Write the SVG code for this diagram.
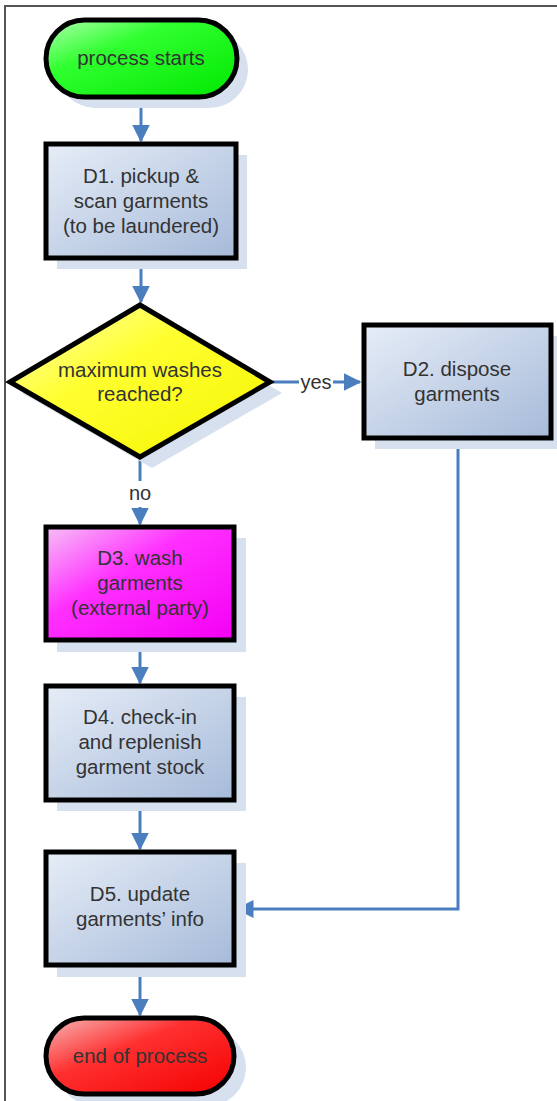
<svg xmlns="http://www.w3.org/2000/svg" width="557" height="1101" viewBox="0 0 557 1101">
<defs>
<linearGradient id="gBox" x1="0" y1="0" x2="1" y2="1">
<stop offset="0" stop-color="#e6edf7"/><stop offset="1" stop-color="#a6bad9"/>
</linearGradient>
<linearGradient id="gGreen" x1="0" y1="0" x2="1" y2="1">
<stop offset="0" stop-color="#b0ffb0"/><stop offset="0.35" stop-color="#30ff30"/><stop offset="1" stop-color="#00e800"/>
</linearGradient>
<linearGradient id="gYellow" x1="0" y1="0" x2="1" y2="1">
<stop offset="0" stop-color="#ffffb8"/><stop offset="0.4" stop-color="#ffff30"/><stop offset="1" stop-color="#f4f400"/>
</linearGradient>
<linearGradient id="gMagenta" x1="0" y1="0" x2="1" y2="1">
<stop offset="0" stop-color="#f6c0f6"/><stop offset="0.4" stop-color="#ff30ff"/><stop offset="1" stop-color="#f400f4"/>
</linearGradient>
<linearGradient id="gRed" x1="0" y1="0" x2="1" y2="1">
<stop offset="0" stop-color="#f6b8b8"/><stop offset="0.4" stop-color="#ff3030"/><stop offset="1" stop-color="#f40000"/>
</linearGradient>
<marker id="ah" markerWidth="6" markerHeight="6" refX="5.5" refY="3" orient="auto" markerUnits="strokeWidth">
<path d="M0,0 L6,3 L0,6 z" fill="#4a7ebf"/>
</marker>
</defs>
<style>
.sh{fill:#d7e0ee}
.nd{stroke:#000;stroke-width:5}
.tx{font-family:"Liberation Sans",Arial,sans-serif;font-size:20.5px;fill:#333;text-anchor:middle}
.lb{font-family:"Liberation Sans",Arial,sans-serif;font-size:20px;fill:#333;text-anchor:middle}
.cn{stroke:#4a7ebf;stroke-width:3;fill:none}
</style>
<rect width="557" height="1101" fill="#fff"/>
<path d="M5,1101 V6 H557" fill="none" stroke="#555" stroke-width="2"/>

<g id="connectors">
<path class="cn" d="M141,97 V141" marker-end="url(#ah)"/>
<path class="cn" d="M141,259 V302" marker-end="url(#ah)"/>
<path class="cn" d="M271,382 H299 M333,382 H360" marker-end="url(#ah)"/>
<path class="cn" d="M140,457 V481"/>
<path class="cn" d="M140,507 V524" marker-end="url(#ah)"/>
<path class="cn" d="M140,641 V683" marker-end="url(#ah)"/>
<path class="cn" d="M140,801 V849" marker-end="url(#ah)"/>
<path class="cn" d="M458,438 V909 H237" marker-end="url(#ah)"/>
<path class="cn" d="M140,966 V1015" marker-end="url(#ah)"/>
<text class="lb" x="316" y="389">yes</text>
<text class="lb" x="140" y="500">no</text>
</g>

<g id="start">
<rect class="sh" x="57" y="31" width="191" height="77" rx="38.5"/>
<rect class="nd" x="46" y="20" width="191" height="77" rx="38.5" fill="url(#gGreen)"/>
<text class="tx" x="141" y="65">process starts</text>
</g>

<g id="D1">
<rect class="sh" x="57" y="155" width="190" height="114"/>
<rect class="nd" x="46" y="144" width="190" height="114" fill="url(#gBox)"/>
<text class="tx" x="141" y="183">D1. pickup &amp;</text>
<text class="tx" x="141" y="208">scan garments</text>
<text class="tx" x="141" y="233">(to be laundered)</text>
</g>

<g id="decision">
<polygon class="sh" points="152,316 282,393 152,468 22,393"/>
<polygon class="nd" points="140,305 270,382 140,457 10,382" fill="url(#gYellow)"/>
<text class="tx" x="140" y="377">maximum washes</text>
<text class="tx" x="140" y="401">reached?</text>
</g>

<g id="D2">
<rect class="sh" x="375" y="336" width="188" height="113"/>
<rect class="nd" x="364" y="325" width="187" height="113" fill="url(#gBox)"/>
<text class="tx" x="457" y="376">D2. dispose</text>
<text class="tx" x="457" y="401">garments</text>
</g>

<g id="D3">
<rect class="sh" x="57" y="538" width="189" height="114"/>
<rect class="nd" x="46" y="527" width="188" height="113" fill="url(#gMagenta)"/>
<text class="tx" x="140" y="565">D3. wash</text>
<text class="tx" x="140" y="590">garments</text>
<text class="tx" x="140" y="615">(external party)</text>
</g>

<g id="D4">
<rect class="sh" x="57" y="697" width="189" height="114"/>
<rect class="nd" x="46" y="686" width="188" height="114" fill="url(#gBox)"/>
<text class="tx" x="140" y="724">D4. check-in</text>
<text class="tx" x="140" y="749">and replenish</text>
<text class="tx" x="140" y="774">garment stock</text>
</g>

<g id="D5">
<rect class="sh" x="57" y="863" width="189" height="114"/>
<rect class="nd" x="46" y="852" width="188" height="113" fill="url(#gBox)"/>
<text class="tx" x="140" y="901">D5. update</text>
<text class="tx" x="140" y="926">garments’ info</text>
</g>

<g id="end">
<rect class="sh" x="57" y="1029" width="189" height="77" rx="38.5"/>
<rect class="nd" x="46" y="1018" width="188" height="76" rx="38" fill="url(#gRed)"/>
<text class="tx" x="140" y="1063">end of process</text>
</g>
</svg>
